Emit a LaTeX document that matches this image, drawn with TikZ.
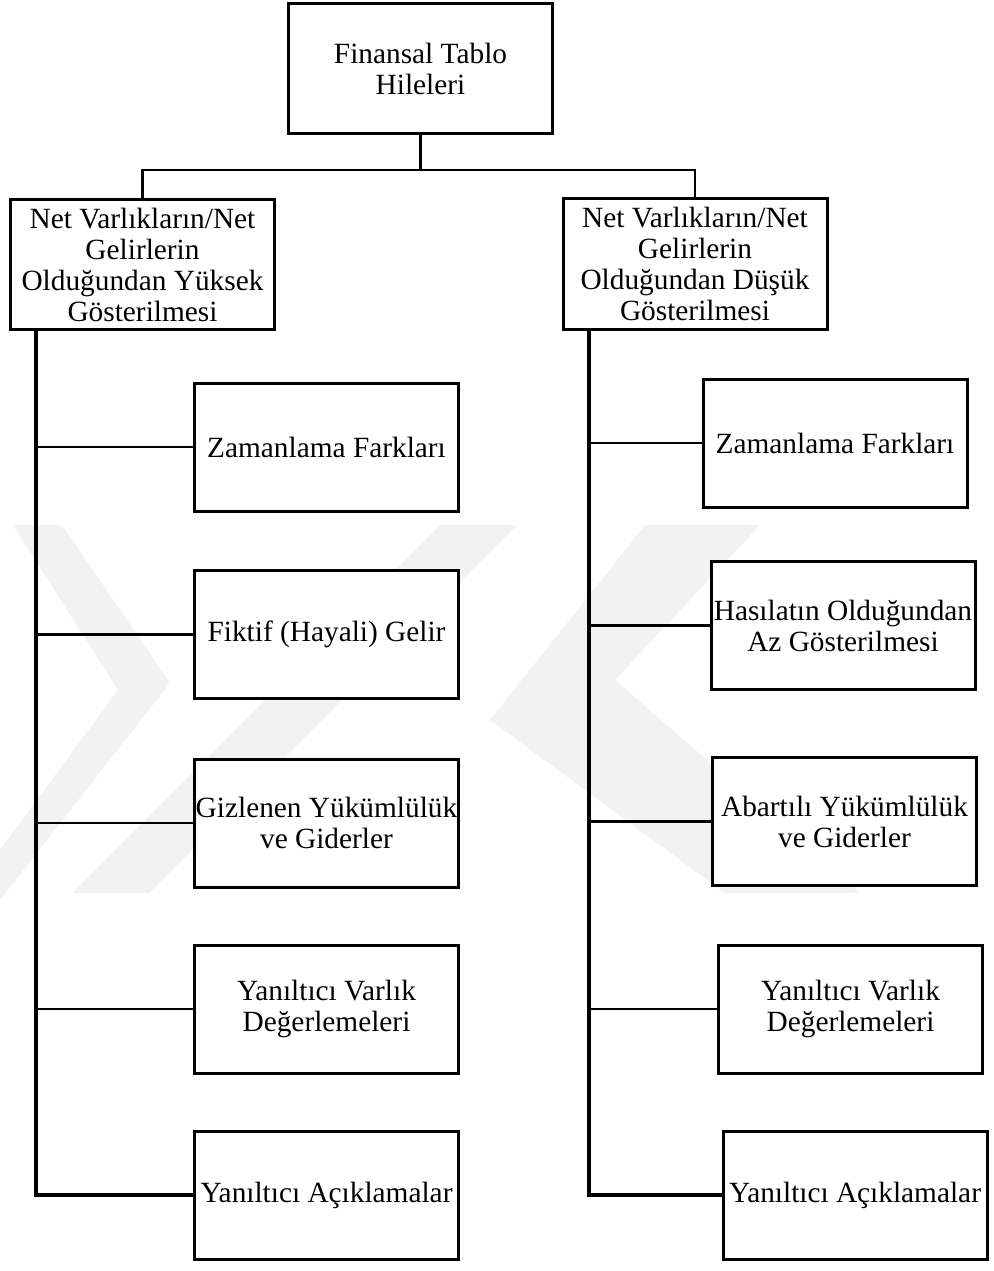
\documentclass[tikz,border=0pt]{standalone}
\usepackage{fontspec}
\setmainfont{Liberation Serif}
\begin{document}
\begin{tikzpicture}[x=0.75pt,y=-0.75pt,
  box/.style={draw=black, line width=2.25pt, fill=white, align=center,
    inner sep=0pt, minimum width=198pt, minimum height=96pt,
    font=\fontsize{22}{23.25}\selectfont},
  link/.style={draw=black, line width=2pt},
  trunk/.style={draw=black, line width=2.4pt},
  wmark/.style={fill=black!5, draw=none}]
\useasboundingbox (0,0) rectangle (993,1271);
% faint background watermark
\fill[wmark] (13,525) -- (62,525) -- (170,683) -- (0,900) -- (0,850) -- (118,690) -- cycle;
\fill[wmark] (440,525) -- (517,525) -- (149,893) -- (72,893) -- cycle;
\fill[wmark] (645,525) -- (760,525) -- (615,680) -- (860,893) -- (725,893) -- (490,720) -- cycle;
% nodes
\node[box, minimum height=97.5pt] (T) at (420.5,68.5) {Finansal Tablo\\Hileleri};
\node[box, minimum height=97.5pt] (L) at (142.5,264.5) {Net Varlıkların/Net\\Gelirlerin\\Olduğundan Yüksek\\Gösterilmesi};
\node[box, minimum height=98pt] (R) at (695,264) {Net Varlıkların/Net\\Gelirlerin\\Olduğundan Düşük\\Gösterilmesi};
\node[box] (l1) at (326.5,447) {Zamanlama Farkları};
\node[box] (l2) at (326.5,634.5) {Fiktif (Hayali) Gelir};
\node[box] (l3) at (326.5,823) {Gizlenen Yükümlülük\\ve Giderler};
\node[box] (l4) at (326.5,1009) {Yanıltıcı Varlık\\Değerlemeleri};
\node[box] (l5) at (326.5,1195) {Yanıltıcı Açıklamalar};
\node[box] (r1) at (835,443) {Zamanlama Farkları};
\node[box] (r2) at (843,625.5) {Hasılatın Olduğundan\\Az Gösterilmesi};
\node[box] (r3) at (844.5,821.5) {Abartılı Yükümlülük\\ve Giderler};
\node[box] (r4) at (850.5,1009) {Yanıltıcı Varlık\\Değerlemeleri};
\node[box] (r5) at (855,1195) {Yanıltıcı Açıklamalar};
% connectors
\coordinate (bar) at (420.5,170);
\coordinate (lt) at (36,331);
\coordinate (rt) at (589,331);
\draw[link] (T.south) -- (bar);
\draw[link] (L.north) |- (bar) -| (R.north);
\draw[trunk] (lt) |- (l5.west);
\draw[trunk] (rt) |- (r5.west);
\foreach \n in {l1,l2,l3,l4}{\draw[link] (\n.west) -- (\n.west -| lt);}
\foreach \n in {r1,r2,r3,r4}{\draw[link] (\n.west) -- (\n.west -| rt);}
\end{tikzpicture}
\end{document}
